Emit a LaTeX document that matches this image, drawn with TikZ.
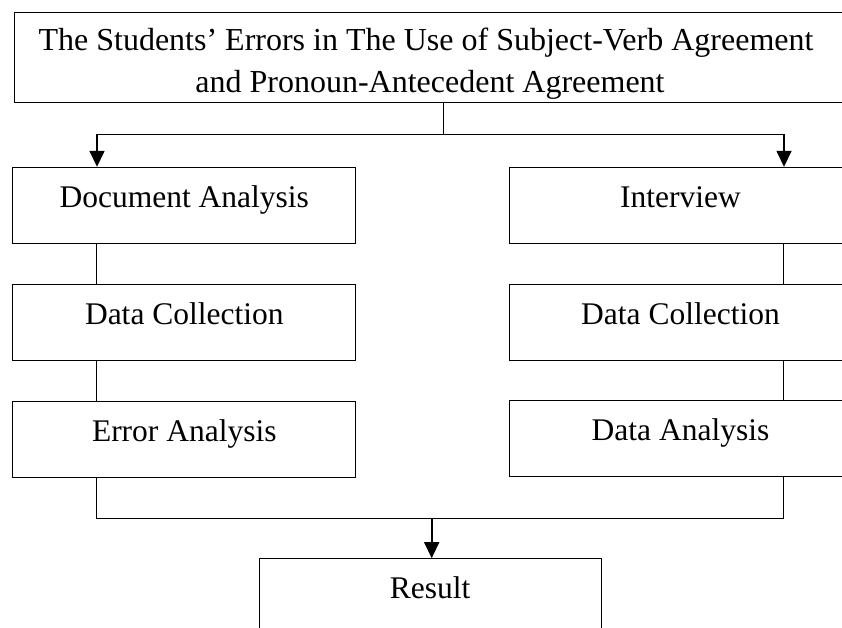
\documentclass[tikz,border=0pt]{standalone}
\usepackage{fontspec}
\setmainfont{Liberation Serif}
\usetikzlibrary{arrows.meta}
\tikzset{
  stepbox/.style={draw, line width=1pt, minimum width=343pt, minimum height=76pt,
    inner sep=0pt, text height=20pt, text depth=16pt, font=\fontsize{31.5}{36}\selectfont},
  titlefont/.style={anchor=base, inner sep=0pt, font=\fontsize{32}{38}\selectfont},
  link/.style={line width=1pt},
  arrow/.style={line width=1.6pt, -{Triangle[width=15pt,length=16pt]}}
}
\begin{document}
\begin{tikzpicture}[x=1pt,y=-1pt]
    \path[use as bounding box, clip] (0,0) rectangle (842,628);
    \path (442,58) node[draw, line width=1pt, minimum width=855pt, minimum height=90pt] (title) {};
    \path (426,51) node[titlefont] (titleA) {The Students' Errors in The Use of Subject-Verb Agreement};
    \path (430,93) node[titlefont] (titleB) {and Pronoun-Antecedent Agreement};
    \path (184.3,205.3) node[stepbox] (doc) {Document Analysis};
    \path (184.3,322.2) node[stepbox] (collL) {Data Collection};
    \path (184.3,439.5) node[stepbox] (err) {Error Analysis};
    \path (680.5,205.3) node[stepbox] (inter) {Interview};
    \path (680.5,322.2) node[stepbox] (collR) {Data Collection};
    \path (680.5,438.3) node[stepbox] (dana) {Data Analysis};
    \path (430,596.7) node[stepbox, minimum width=342pt] (result) {Result};
    \coordinate (fork) at (443,134.3);
    \coordinate (forkL) at (97,134.3);
    \coordinate (forkR) at (784,134.3);
    \coordinate (colL) at (96,0);
    \coordinate (colR) at (783,0);
    \coordinate (join) at (431.7,518.3);
    \draw [link] (title.south -| fork) -- (fork);
    \draw [link] (forkL) -- (forkR);
    \draw [arrow] (forkL) -- (forkL |- doc.north);
    \draw [arrow] (forkR) -- (forkR |- inter.north);
    \draw [link] (doc.south -| colL) -- (collL.north -| colL);
    \draw [link] (collL.south -| colL) -- (err.north -| colL);
    \draw [link] (inter.south -| colR) -- (collR.north -| colR);
    \draw [link] (collR.south -| colR) -- (dana.north -| colR);
    \draw [link] (err.south -| colL) -- (colL |- join) -- (colR |- join) -- (dana.south -| colR);
    \draw [arrow] (join) -- (join |- result.north);
\end{tikzpicture}
\end{document}
